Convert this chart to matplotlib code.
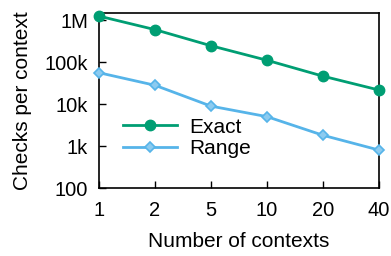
import matplotlib
matplotlib.use('Agg')
import matplotlib.pyplot as plt

plt.rcParams['font.family'] = ['Liberation Sans', 'DejaVu Sans']

# data
contexts = ['1', '2', '5', '10', '20', '40']
exact = [1240000, 590000, 244000, 110000, 46000, 21500]
range_checks = [55600, 27900, 8900, 5000, 1800, 800]
ytick_vals = [100, 1000, 10000, 100000, 1000000]
ytick_labels = ['100', '1k', '10k', '100k', '1M']

fig = plt.figure(figsize=(3.91, 2.56), dpi=100)
ax = fig.add_axes([99 / 391, 1 - 188 / 256, 280 / 391, 175 / 256])

x = list(range(len(contexts)))
ax.plot(x, exact, color='#009E73', lw=2, marker='o', ms=7.5, label='Exact',
        clip_on=False, zorder=3)
ax.plot(x, range_checks, color='#56B4E9', lw=2, marker='D', ms=5.5,
        mfc='#8ccbf0', mec='#56B4E9', mew=1.2, label='Range',
        clip_on=False, zorder=3)

ax.set_yscale('log')
ax.set_ylim(100, 10 ** 6.167)
ax.set_xlim(0, len(contexts) - 1)
ax.set_yticks(ytick_vals)
ax.set_yticklabels(ytick_labels)
ax.minorticks_off()
ax.set_xticks(x)
ax.set_xticklabels(contexts)
ax.tick_params(direction='in', length=5, width=1, labelsize=14.5)
ax.tick_params(axis='x', pad=9)
ax.tick_params(axis='y', pad=8)

for s in ax.spines.values():
    s.set_linewidth(1.2)

ax.set_xlabel('Number of contexts', fontsize=15, labelpad=9)
ax.set_ylabel('Checks per context', fontsize=15, labelpad=9)

ax.legend(loc='lower left', bbox_to_anchor=(0.048, 0.113), frameon=False,
          fontsize=15, handlelength=2.6, handletextpad=0.6,
          labelspacing=0.1, borderpad=0)

fig.savefig('out.png', dpi=100)
